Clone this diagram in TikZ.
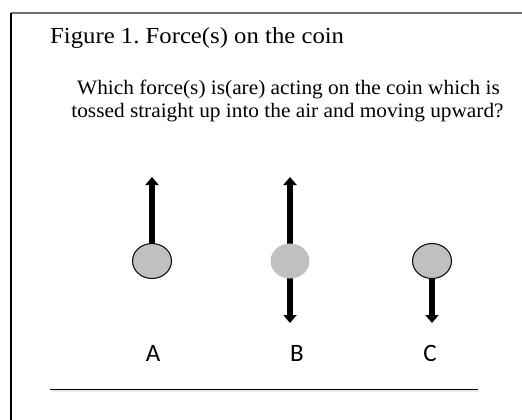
\documentclass[tikz,border=0pt]{standalone}
\usepackage{fontspec}
\setmainfont{Liberation Serif}
\newfontfamily\labelfont{Carlito}
\usetikzlibrary{arrows.meta,shapes.geometric,backgrounds}
\definecolor{coingray}{HTML}{C0C0C0}
\definecolor{framegray}{HTML}{707070}
\tikzset{
  coin/.style={ellipse, minimum width=39pt, minimum height=35pt, inner sep=0pt, fill=coingray},
  coinedge/.style={coin, draw=black, line width=1pt},
  force/.style={line width=5.5pt, -{Triangle[width=13pt,length=8pt]}},
  letter/.style={font=\labelfont\fontsize{25}{30}\selectfont, anchor=base},
  textline/.style={inner sep=0pt, font=\frenchspacing\fontsize{20.5}{24}\selectfont, anchor=base},
}
\begin{document}
\begin{tikzpicture}[x=1pt,y=-1pt]
\useasboundingbox (0,0) rectangle (522,420);
% frame
\draw[framegray, line width=1.4pt] (11,13) -- (522,13);
\draw[black, line width=1.3pt] (11,13) -- (11,420);
% title and question
\node[anchor=base west, inner sep=0pt, font=\frenchspacing\fontsize{23}{26}\selectfont] (title) at (50,44) {\scalebox{1.075}[1]{Figure 1. Force(s) on the coin}};
\node[textline] (q1) at (288.5,94) {\scalebox{1.04}[1]{Which force(s) is(are) acting on the coin which is}};
\node[textline] (q2) at (287.5,117) {\scalebox{1.04}[1]{tossed straight up into the air and moving upward?}};
% coins
\node[coinedge] (coinA) at (152,261) {};
\node[coin] (coinB) at (290,261) {};
\node[coinedge] (coinC) at (432,261) {};
\coordinate (tipAup) at (152,177);
\coordinate (tipBup) at (290,177);
\coordinate (tipBdown) at (290,323);
\coordinate (tipCdown) at (432,323);
\begin{scope}[on background layer]
\draw[force] (coinA.center) -- (tipAup);
\draw[force] (coinB.center) -- (tipBup);
\draw[force] (coinB.center) -- (tipBdown);
\draw[force] (coinC.center) -- (tipCdown);
\end{scope}
% labels
\node[letter] (labA) at (153,361) {A};
\node[letter] (labB) at (297,361) {B};
\node[letter] (labC) at (430,361) {C};
% baseline rule
\draw[black!8, line width=1.5pt] (52,390.8) -- (479,390.8);
\draw[black, line width=1pt] (50,389) -- (478,389);
\end{tikzpicture}
\end{document}
